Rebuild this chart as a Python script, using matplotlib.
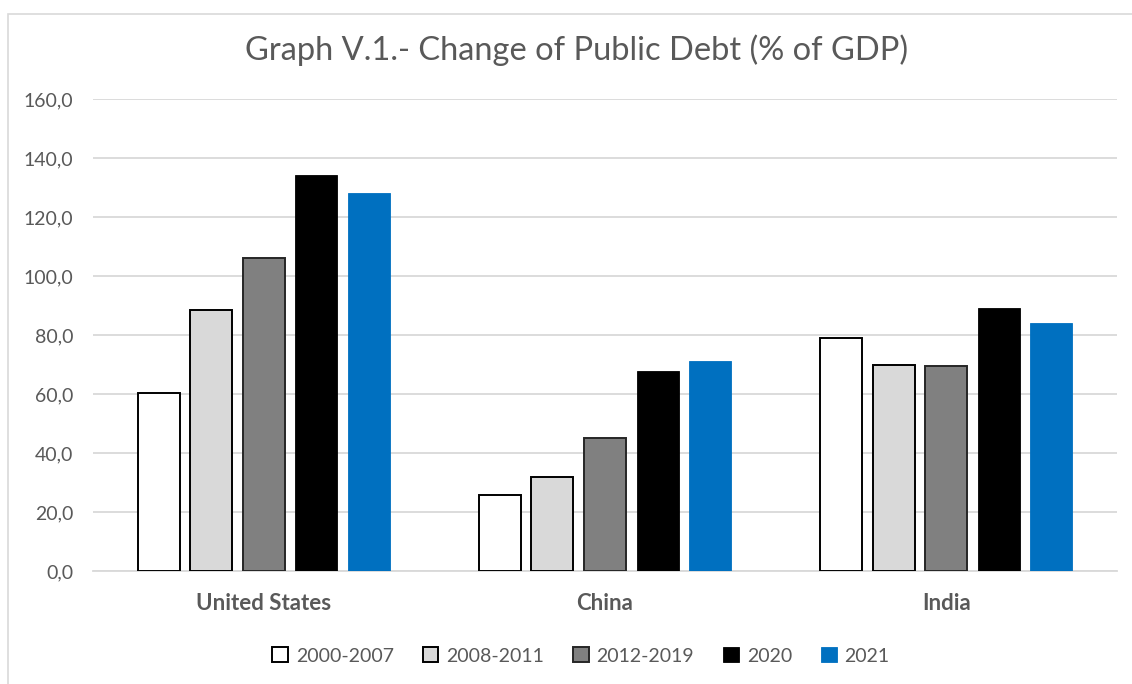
import matplotlib
matplotlib.use("Agg")
import matplotlib.pyplot as plt
import numpy as np
from matplotlib.patches import Rectangle

# Data
countries = ["United States", "China", "India"]
periods = ["2000-2007", "2008-2011", "2012-2019", "2020", "2021"]
debt_2000_2007 = [60.5, 25.8, 79.2]
debt_2008_2011 = [88.5, 32.0, 69.9]
debt_2012_2019 = [106.2, 45.3, 69.4]
debt_2020 = [134.5, 67.7, 89.2]
debt_2021 = [128.3, 71.3, 84.1]
y_ticks = [0, 20, 40, 60, 80, 100, 120, 140, 160]

series = [debt_2000_2007, debt_2008_2011, debt_2012_2019, debt_2020, debt_2021]
fills = ["#ffffff", "#d9d9d9", "#808080", "#000000", "#0070c0"]
edges = ["#000000", "#000000", "#262626", "#000000", "#0070c0"]

plt.rcParams["font.family"] = ["Lato", "DejaVu Sans"]

W, H = 1132, 684
fig = plt.figure(figsize=(W / 100, H / 100), dpi=100)
fig.patch.set_facecolor("white")

# Outer chart frame
fig.patches.append(Rectangle((8 / W, -0.05), 1.2, 1 - 14 / H + 0.05,
                             transform=fig.transFigure, fill=False,
                             edgecolor="#d9d9d9", linewidth=1.2))

ax = fig.add_axes([93 / W, 1 - 571 / H, (1117 - 93) / W, (571 - 99.5) / H])

x = np.arange(len(countries))
width = 0.123
step = 0.154
for i, (vals, fc, ec) in enumerate(zip(series, fills, edges)):
    offs = (i - 2) * step
    lw = 1.4 if i < 3 else 0.6
    ax.bar(x + offs, vals, width=width, color=fc, edgecolor=ec,
           linewidth=lw, label=periods[i], zorder=3)

ax.set_xlim(-0.5, 2.5)
ax.set_ylim(0, 160)
ax.set_yticks(y_ticks)
ax.set_yticklabels([f"{v:.1f}".replace(".", ",") for v in y_ticks],
                   fontsize=14, color="#595959")
ax.set_xticks(x)
ax.set_xticklabels(countries, fontsize=16, fontweight="bold", color="#595959")
ax.tick_params(axis="both", length=0)
ax.tick_params(axis="y", pad=14)
ax.tick_params(axis="x", pad=16)
ax.grid(axis="y", color="#d9d9d9", linewidth=1.3, zorder=0)
for s in ["top", "right", "left"]:
    ax.spines[s].set_visible(False)
ax.spines["bottom"].set_color("#d9d9d9")
ax.spines["bottom"].set_linewidth(1.3)

fig.text(577 / W, 1 - 50 / H, "Graph V.1.- Change of Public Debt (% of GDP)",
         ha="center", va="center", fontsize=23.5, color="#595959")

leg = fig.legend(loc="center", bbox_to_anchor=(581 / W, 1 - 656 / H), ncol=5,
                 frameon=False, fontsize=14, handlelength=0.8,
                 handleheight=0.8, handletextpad=0.4, columnspacing=1.5)
for t in leg.get_texts():
    t.set_color("#595959")

fig.savefig("out.png", dpi=100, facecolor="white")
